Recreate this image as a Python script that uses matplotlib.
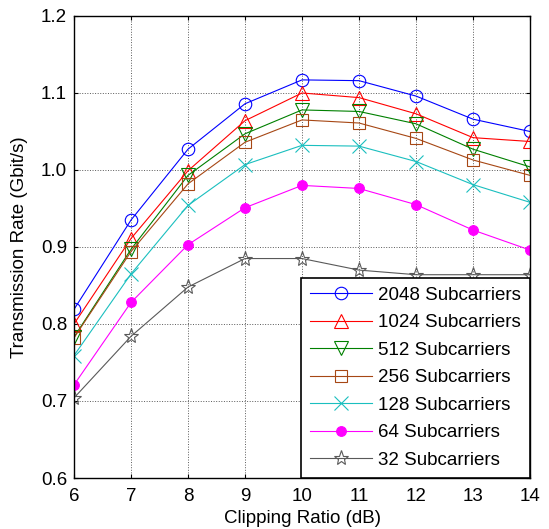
import numpy as np
import matplotlib.pyplot as plt

plt.rcParams['font.family'] = ['Liberation Sans', 'DejaVu Sans']

clip_ratio = [6, 7, 8, 9, 10, 11, 12, 13, 14]

rate_2048 = [0.819, 0.935, 1.027, 1.086, 1.117, 1.116, 1.096, 1.066, 1.050]
rate_1024 = [0.800, 0.911, 0.999, 1.064, 1.100, 1.094, 1.073, 1.042, 1.037]
rate_512 = [0.783, 0.897, 0.993, 1.047, 1.078, 1.076, 1.060, 1.027, 1.004]
rate_256 = [0.782, 0.894, 0.982, 1.036, 1.065, 1.061, 1.041, 1.013, 0.993]
rate_128 = [0.759, 0.865, 0.954, 1.007, 1.032, 1.031, 1.011, 0.981, 0.958]
rate_64 = [0.721, 0.828, 0.903, 0.951, 0.980, 0.976, 0.955, 0.922, 0.896]
rate_32 = [0.704, 0.784, 0.848, 0.885, 0.885, 0.870, 0.864, 0.864, 0.864]

etiquetas = ['2048 Subcarriers', '1024 Subcarriers', '512 Subcarriers',
             '256 Subcarriers', '128 Subcarriers', '64 Subcarriers',
             '32 Subcarriers']

fig = plt.figure(figsize=(5.49, 5.29), dpi=100)
ax = fig.add_axes([0.1348, 0.0964, 0.8306, 0.8734])

estilos = [
    (rate_2048, (0, 0, 1), 'o', 'none', 9),
    (rate_1024, (1, 0, 0), '^', 'none', 10),
    (rate_512, (0, 0.5, 0), 'v', 'none', 10),
    (rate_256, (0.65, 0.28, 0.08), 's', 'none', 9),
    (rate_128, (0.1, 0.75, 0.75), 'x', 'none', 10),
    (rate_64, (1, 0, 1), 'o', (1, 0, 1), 7),
    (rate_32, (0.35, 0.35, 0.35), '*', 'none', 11),
]

for (y, cor, mk, face, ms), nome in zip(estilos, etiquetas):
    ax.plot(clip_ratio, y, color=cor, lw=0.8, marker=mk, ms=ms,
            mfc=face, mec=cor, mew=0.8, label=nome)

ax.set_xlim(6, 14)
ax.set_ylim(0.6, 1.2)
ax.set_xticks(range(6, 15))
ax.set_yticks([0.6, 0.7, 0.8, 0.9, 1.0, 1.1, 1.2])
ax.set_yticklabels(['0.6', '0.7', '0.8', '0.9', '1.0', '1.1', '1.2'])
ax.tick_params(direction='in', length=3, top=True, right=True,
               labelsize=13.5, width=0.8)
ax.tick_params(axis='x', pad=7)
ax.tick_params(axis='y', pad=5)
ax.grid(True, ls=':', color='0.35', lw=0.7)
for s in ax.spines.values():
    s.set_linewidth(1.0)

ax.set_xlabel('Clipping Ratio (dB)', fontsize=13.5, labelpad=4)
ax.set_ylabel('Transmission Rate (Gbit/s)', fontsize=13.5, labelpad=9)

leg = ax.legend(loc='lower right', fontsize=13.5, fancybox=False,
                framealpha=1, edgecolor='black', borderaxespad=0,
                handlelength=3.3, handletextpad=0.3, labelspacing=0.55,
                borderpad=0.5)
leg.get_frame().set_linewidth(1.2)

fig.savefig('out.png', dpi=100)
